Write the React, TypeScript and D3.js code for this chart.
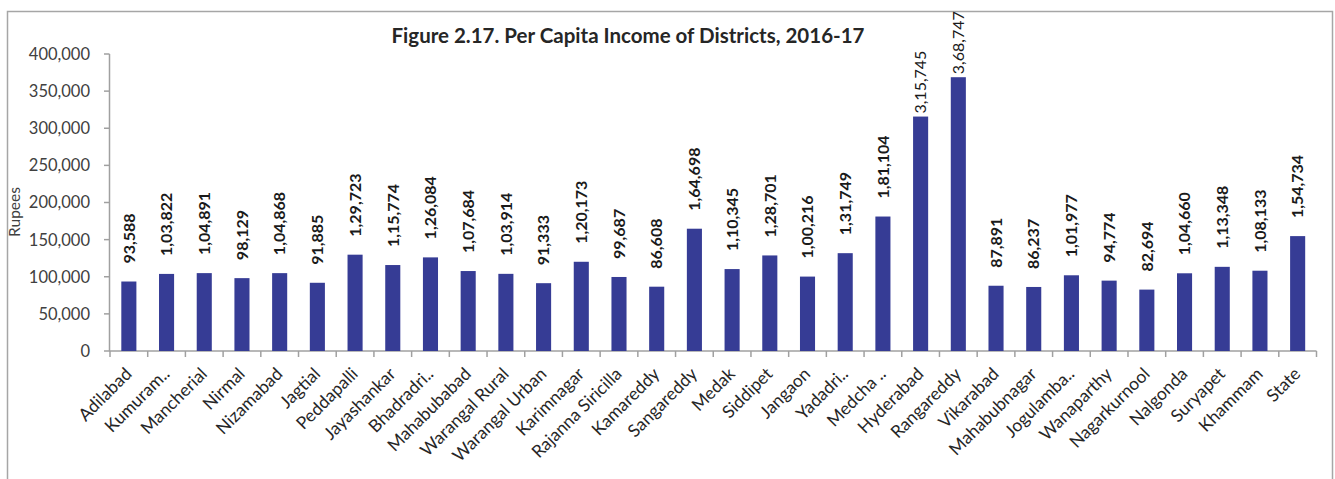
import React from "react";
import * as d3 from "d3";

const districts: string[] = [
  "Adilabad", "Kumuram..", "Mancherial", "Nirmal", "Nizamabad", "Jagtial",
  "Peddapalli", "Jayashankar", "Bhadradri..", "Mahabubabad", "Warangal Rural",
  "Warangal Urban", "Karimnagar", "Rajanna Siricilla", "Kamareddy", "Sangareddy",
  "Medak", "Siddipet", "Jangaon", "Yadadri..", "Medcha ..", "Hyderabad",
  "Rangareddy", "Vikarabad", "Mahabubnagar", "Jogulamba..", "Wanaparthy",
  "Nagarkurnool", "Nalgonda", "Suryapet", "Khammam", "State",
];

const incomes: number[] = [
  93588, 103822, 104891, 98129, 104868, 91885,
  129723, 115774, 126084, 107684, 103914,
  91333, 120173, 99687, 86608, 164698,
  110345, 128701, 100216, 131749, 181104, 315745,
  368747, 87891, 86237, 101977, 94774,
  82694, 104660, 113348, 108133, 154734,
];

const yTicks: number[] = [0, 50000, 100000, 150000, 200000, 250000, 300000, 350000, 400000];

const plainLabelDistricts: string[] = ["Hyderabad", "Rangareddy"];

const title = "Figure 2.17. Per Capita Income of Districts, 2016-17";
const yTitle = "Rupees";

function indianFormat(n: number): string {
  const s = String(Math.round(n));
  if (s.length <= 3) return s;
  const last3 = s.slice(-3);
  let rest = s.slice(0, -3);
  const parts: string[] = [];
  while (rest.length > 2) {
    parts.unshift(rest.slice(-2));
    rest = rest.slice(0, -2);
  }
  if (rest.length) parts.unshift(rest);
  return parts.join(",") + "," + last3;
}

const W = 1335;
const H = 479;
const FONT = "Lato, 'Open Sans', sans-serif";

export default function App() {
  const x0 = 110;
  const x1 = 1316.5;
  const yTop = 54;
  const yBot = 351;

  const x = d3.scaleBand<string>().domain(districts).range([x0, x1]).paddingInner(0.6).paddingOuter(0.3);
  const y = d3.scaleLinear().domain([0, 400000]).range([yBot, yTop]);
  const step = x.step();
  const fmtTick = d3.format(",");
  const axisColor = "#a0a0a0";

  return (
    <svg width={W} height={H} style={{ position: "absolute", left: 0, top: 0, background: "#fff" }} fontFamily={FONT}>
      <rect x={0} y={0} width={W} height={H} fill="#fff" />
      {/* outer frame */}
      <path d={`M7.5,${H} V11.5 H1332.5 V${H}`} fill="none" stroke="#a6a6a6" strokeWidth={1.5} />

      <text x={628} y={43} textAnchor="middle" fontWeight="bold" fontSize={20.5} fill="#262626">
        {title}
      </text>

      {/* y axis */}
      <line x1={x0 - 0.5} x2={x0 - 0.5} y1={yTop} y2={yBot} stroke={axisColor} strokeWidth={1.5} />
      {yTicks.map((t) => (
        <g key={t}>
          <line x1={x0 - 6} x2={x0 - 0.5} y1={y(t)} y2={y(t)} stroke={axisColor} strokeWidth={1.5} />
          <text x={90} y={y(t)} dy="0.36em" textAnchor="end" fontSize={16.5} fill="#404040">
            {fmtTick(t)}
          </text>
        </g>
      ))}
      <text transform={`translate(20,212) rotate(-90)`} textAnchor="middle" fontSize={15.5} fill="#404040">
        {yTitle}
      </text>

      {/* x axis */}
      <line x1={x0 - 1} x2={x1} y1={yBot} y2={yBot} stroke={axisColor} strokeWidth={1.5} />
      {d3.range(districts.length + 1).map((i) => (
        <line key={i} x1={x0 + i * step} x2={x0 + i * step} y1={yBot} y2={yBot + 6} stroke={axisColor} strokeWidth={1.5} />
      ))}

      {/* bars */}
      {districts.map((d, i) => (
        <rect key={d} x={x(d)} y={y(incomes[i])} width={x.bandwidth()} height={yBot - y(incomes[i])} fill="#363c95" />
      ))}

      {/* data labels */}
      {districts.map((d, i) => {
        const plain = plainLabelDistricts.includes(d);
        const cx = (x(d) as number) + x.bandwidth() / 2;
        const base = y(incomes[i]) - (plain ? 3 : 18);
        return (
          <text
            key={d}
            transform={`translate(${cx},${base}) rotate(-90)`}
            dy="0.36em"
            textAnchor="start"
            fontSize={16}
            fontWeight={plain ? "normal" : "bold"}
            fill="#1a1a1a"
          >
            {indianFormat(incomes[i])}
          </text>
        );
      })}

      {/* x labels */}
      {districts.map((d) => {
        const cx = (x(d) as number) + x.bandwidth() / 2;
        return (
          <text
            key={d}
            transform={`translate(${cx + 4},${yBot + 24}) rotate(-45)`}
            textAnchor="end"
            fontSize={17.5}
            fill="#262626"
          >
            {d}
          </text>
        );
      })}
    </svg>
  );
}
